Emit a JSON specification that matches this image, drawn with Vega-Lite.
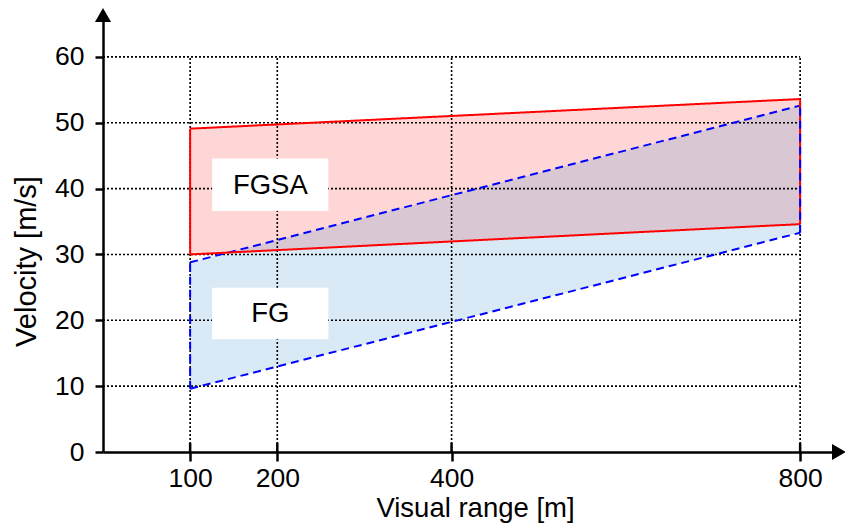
{
  "$schema": "https://vega.github.io/schema/vega-lite/v6.json",
  "width": 732,
  "height": 432,
  "autosize": "none",
  "padding": {"left": 103, "top": 20, "right": 10, "bottom": 74},
  "background": "white",
  "config": {
    "view": {"stroke": null},
    "font": "Liberation Sans",
    "axis": {"grid": false, "domainColor": "black", "domainWidth": 2.5, "tickColor": "black", "tickWidth": 2.5, "tickSize": 9, "labelColor": "black", "titleColor": "black", "labelFont": "Liberation Sans", "titleFont": "Liberation Sans", "titleFontWeight": "normal", "labelFontSize": 26.5, "titleFontSize": 27.5}
  },
  "datasets": {
    "bands": [
      {"series": "FGSA", "x": 100, "lo": 30.0, "hi": 49.1},
      {"series": "FGSA", "x": 800, "lo": 34.6, "hi": 53.6},
      {"series": "FG", "x": 100, "lo": 9.6, "hi": 28.8},
      {"series": "FG", "x": 800, "lo": 33.3, "hi": 52.6}
    ],
    "xgrid": [{"gx": 100}, {"gx": 200}, {"gx": 400}, {"gx": 800}],
    "ygrid": [{"gy": 10}, {"gy": 20}, {"gy": 30}, {"gy": 40}, {"gy": 50}, {"gy": 60}],
    "labels": [
      {"label": "FGSA", "cx": 192, "cy": 40.56, "bx1": 125.2, "bx2": 258.6, "by1": 36.6, "by2": 44.55},
      {"label": "FG", "cx": 192, "cy": 21.04, "bx1": 125.2, "bx2": 258.6, "by1": 17.12, "by2": 24.96}
    ]
  },
  "encoding": {
    "x": {"type": "quantitative", "scale": {"domain": [0, 840], "nice": false}},
    "y": {"type": "quantitative", "scale": {"domain": [0, 65.6], "nice": false}}
  },
  "layer": [
    {
      "data": {"name": "bands"},
      "transform": [{"filter": "datum.series === 'FGSA'"}],
      "mark": {"type": "area", "color": "#ff0000", "fillOpacity": 0.16},
      "encoding": {
        "x": {"field": "x", "type": "quantitative", "axis": {"values": [100, 200, 400, 800], "title": "Visual range [m]", "labelPadding": 4, "titlePadding": 3, "titleX": 372}},
        "y": {"field": "hi", "type": "quantitative", "axis": {"values": [0, 10, 20, 30, 40, 50, 60], "title": "Velocity [m/s]", "tickSize": 8, "labelPadding": 11, "titleX": -77, "titleY": 241, "titleAlign": "center", "titleBaseline": "middle", "titleFontSize": 29}},
        "y2": {"field": "lo"}
      }
    },
    {
      "data": {"name": "bands"},
      "transform": [{"filter": "datum.series === 'FG'"}],
      "mark": {"type": "area", "color": "#0070c0", "fillOpacity": 0.15},
      "encoding": {
        "x": {"field": "x", "type": "quantitative"},
        "y": {"field": "hi", "type": "quantitative"},
        "y2": {"field": "lo"}
      }
    },
    {
      "data": {"name": "xgrid"},
      "mark": {"type": "rule", "color": "black", "strokeWidth": 1.6, "strokeDash": [2, 2]},
      "encoding": {
        "x": {"field": "gx", "type": "quantitative"},
        "y": {"datum": 0},
        "y2": {"datum": 60}
      }
    },
    {
      "data": {"name": "ygrid"},
      "mark": {"type": "rule", "color": "black", "strokeWidth": 1.6, "strokeDash": [2, 2]},
      "encoding": {
        "y": {"field": "gy", "type": "quantitative"},
        "x": {"datum": 0},
        "x2": {"datum": 800}
      }
    },
    {
      "data": {"name": "xgrid"},
      "mark": {"type": "rule", "color": "black", "strokeWidth": 2.5},
      "encoding": {
        "x": {"field": "gx", "type": "quantitative"},
        "y": {"datum": 0},
        "y2": {"datum": 1.4}
      }
    },
    {
      "data": {"name": "bands"},
      "mark": {"type": "line", "strokeWidth": 2},
      "encoding": {
        "x": {"field": "x", "type": "quantitative"},
        "y": {"field": "hi", "type": "quantitative"},
        "color": {"field": "series", "type": "nominal", "scale": {"domain": ["FGSA", "FG"], "range": ["#ff0000", "#0000ff"]}, "legend": null},
        "strokeDash": {"field": "series", "type": "nominal", "scale": {"domain": ["FGSA", "FG"], "range": [[1, 0], [8, 5]]}, "legend": null}
      }
    },
    {
      "data": {"name": "bands"},
      "mark": {"type": "line", "strokeWidth": 2},
      "encoding": {
        "x": {"field": "x", "type": "quantitative"},
        "y": {"field": "lo", "type": "quantitative"},
        "color": {"field": "series", "type": "nominal", "scale": {"domain": ["FGSA", "FG"], "range": ["#ff0000", "#0000ff"]}, "legend": null},
        "strokeDash": {"field": "series", "type": "nominal", "scale": {"domain": ["FGSA", "FG"], "range": [[1, 0], [8, 5]]}, "legend": null}
      }
    },
    {
      "data": {"name": "bands"},
      "mark": {"type": "rule", "strokeWidth": 2},
      "encoding": {
        "x": {"field": "x", "type": "quantitative"},
        "y": {"field": "lo", "type": "quantitative"},
        "y2": {"field": "hi"},
        "color": {"field": "series", "type": "nominal", "scale": {"domain": ["FGSA", "FG"], "range": ["#ff0000", "#0000ff"]}, "legend": null},
        "strokeDash": {"field": "series", "type": "nominal", "scale": {"domain": ["FGSA", "FG"], "range": [[1, 0], [8, 5]]}, "legend": null}
      }
    },
    {
      "data": {"name": "labels"},
      "mark": {"type": "rect", "color": "white"},
      "encoding": {
        "x": {"field": "bx1", "type": "quantitative"},
        "x2": {"field": "bx2"},
        "y": {"field": "by1", "type": "quantitative"},
        "y2": {"field": "by2"}
      }
    },
    {
      "data": {"name": "labels"},
      "mark": {"type": "text", "fontSize": 27.5, "color": "black", "align": "center", "baseline": "middle", "dy": 1},
      "encoding": {
        "x": {"field": "cx", "type": "quantitative"},
        "y": {"field": "cy", "type": "quantitative"},
        "text": {"field": "label"}
      }
    },
    {
      "data": {"values": [{"a": "up"}]},
      "mark": {"type": "point", "shape": "triangle-up", "filled": true, "color": "black", "size": 260, "opacity": 1},
      "encoding": {
        "x": {"datum": 0},
        "y": {"datum": 65.6},
        "yOffset": {"value": -5}
      }
    },
    {
      "data": {"values": [{"a": "right"}]},
      "mark": {"type": "point", "shape": "triangle-right", "filled": true, "color": "black", "size": 260, "opacity": 1},
      "encoding": {
        "x": {"datum": 840},
        "y": {"datum": 0},
        "xOffset": {"value": 4}
      }
    }
  ]
}
